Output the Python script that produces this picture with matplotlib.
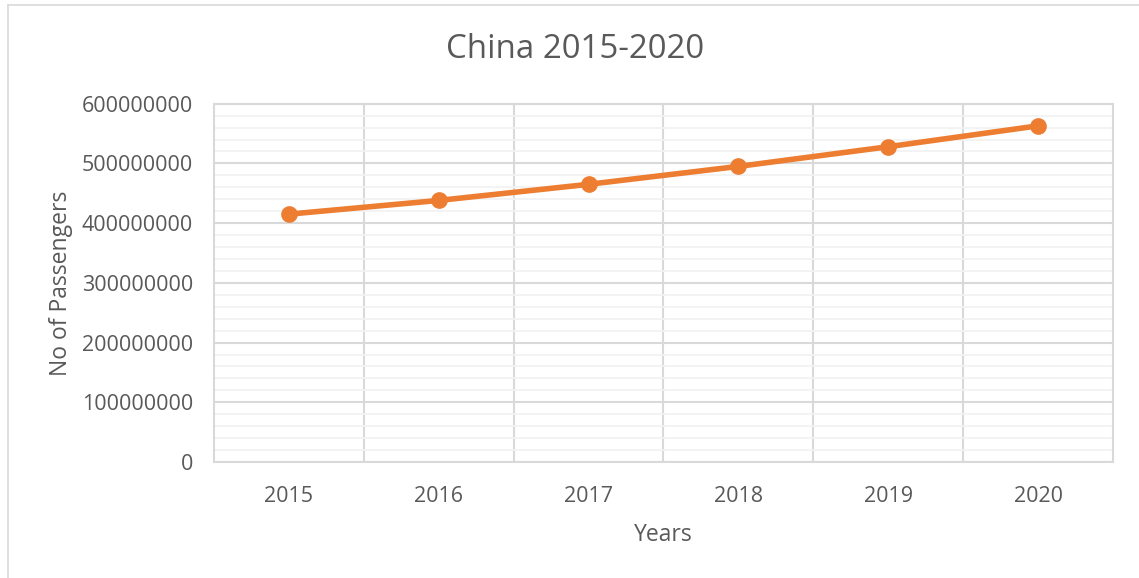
import matplotlib.pyplot as plt
from matplotlib.lines import Line2D
from matplotlib.ticker import MultipleLocator

years = ["2015", "2016", "2017", "2018", "2019", "2020"]
passengers = [415000000, 438000000, 465000000, 495000000, 528000000, 563000000]

TEXT = "#595959"
GRID = "#d9d9d9"
GRID_MINOR = "#f2f2f2"
ORANGE = "#ED7D31"

plt.rcParams["font.family"] = ["Open Sans", "DejaVu Sans"]

W, H = 1139, 578
fig = plt.figure(figsize=(W / 100, H / 100), dpi=100)
ax = fig.add_axes([213.7 / W, 1 - 462 / H, (1113.3 - 213.7) / W, (462 - 103.7) / H])

x = list(range(len(years)))
ax.set_xlim(-0.5, len(years) - 0.5)
ax.set_ylim(0, 600000000)

# grid: light minor lines every 20M, darker major every 100M
ax.yaxis.set_major_locator(MultipleLocator(100000000))
ax.yaxis.set_minor_locator(MultipleLocator(20000000))
ax.grid(axis="y", which="minor", color=GRID_MINOR, lw=1.3, zorder=0)
ax.grid(axis="y", which="major", color=GRID, lw=1.5, zorder=1)
for b in range(1, len(years)):
    ax.axvline(b - 0.5, color=GRID, lw=1.5, zorder=1)
for s in ax.spines.values():
    s.set_color(GRID)
    s.set_linewidth(1.5)

ax.plot(x, passengers, color=ORANGE, lw=4, marker="o", markersize=11,
        solid_capstyle="round", zorder=3)

ax.set_xticks(x)
ax.set_xticklabels(years)
ax.yaxis.set_major_formatter(plt.FuncFormatter(lambda v, p: f"{int(v)}"))
ax.tick_params(axis="both", which="both", length=0, labelsize=15.5, labelcolor=TEXT)
ax.tick_params(axis="x", pad=17)
ax.tick_params(axis="y", pad=15)

ax.set_xlabel("Years", fontsize=16.5, color=TEXT, labelpad=12)
ax.set_ylabel("No of Passengers", fontsize=16.5, color=TEXT, labelpad=6.5)

fig.text(575 / W, 1 - 49 / H, "China 2015-2020", ha="center", va="center",
         fontsize=23.8, color=TEXT)

# chart frame
fig.add_artist(Line2D([8 / W, 1], [1 - 5 / H, 1 - 5 / H], color=GRID, lw=1.2))
fig.add_artist(Line2D([8 / W, 8 / W], [0, 1 - 5 / H], color=GRID, lw=1.2))

fig.savefig("out.png", dpi=100)
